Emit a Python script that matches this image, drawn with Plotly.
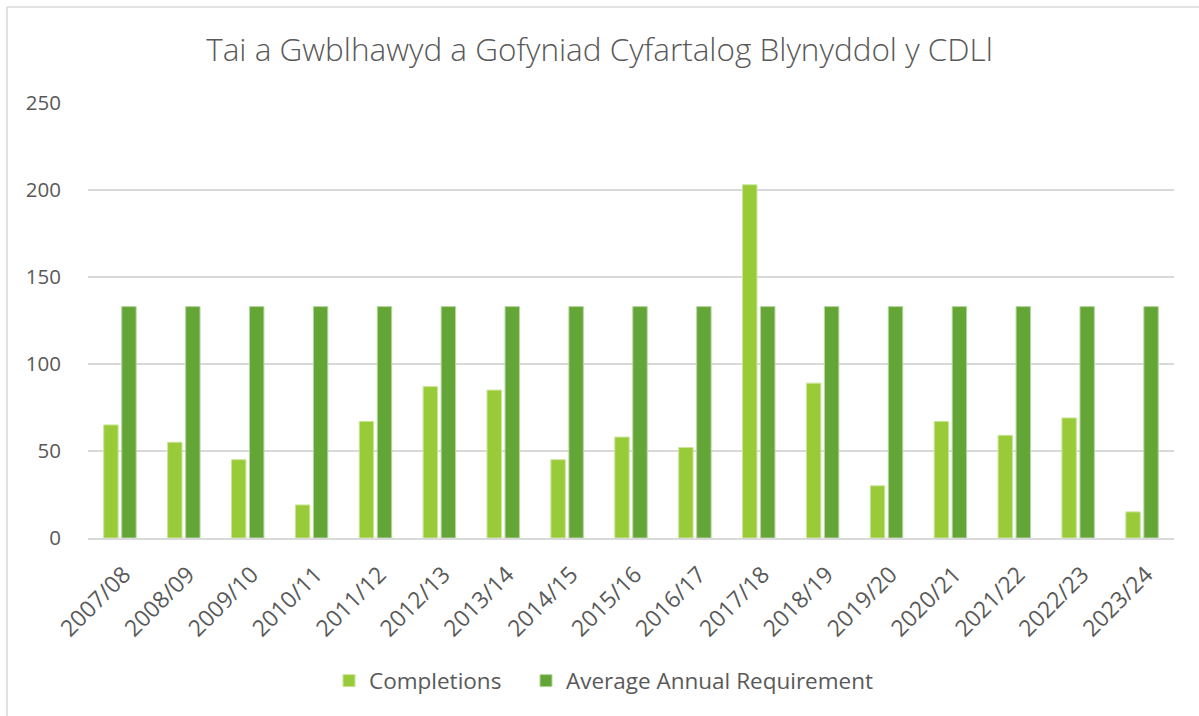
import plotly.graph_objects as go

years = ["2007/08", "2008/09", "2009/10", "2010/11", "2011/12", "2012/13",
         "2013/14", "2014/15", "2015/16", "2016/17", "2017/18", "2018/19",
         "2019/20", "2020/21", "2021/22", "2022/23", "2023/24"]
completions = [65, 55, 45, 19, 67, 87, 85, 45, 58, 52, 203, 89, 30, 67, 59, 69, 15]
requirement = [133] * len(years)

W, H = 1199, 716
FONT = "Open Sans, Noto Sans, sans-serif"
TEXT = "#595959"
GRID = "#D9D9D9"
PL, PR, PT, PB = 88, 1174, 103, 538  # plot area edges in px


def px_x(px):
    return (px - PL) / (PR - PL)


def px_y(py):
    return (PB - py) / (PB - PT)


fig = go.Figure()
fig.add_trace(go.Bar(
    x=years, y=completions, name="Completions", legend="legend",
    marker=dict(color="#99CB38", line=dict(color="#C9E59A", width=1)),
))
fig.add_trace(go.Bar(
    x=years, y=requirement, name="Average Annual Requirement", legend="legend2",
    marker=dict(color="#63A537", line=dict(color="#B5D69C", width=1)),
))

# chart frame edges (top and left)
fig.add_shape(type="line", xref="paper", yref="paper",
              x0=px_x(7), x1=px_x(W), y0=px_y(7), y1=px_y(7),
              line=dict(color=GRID, width=1.5))
fig.add_shape(type="line", xref="paper", yref="paper",
              x0=px_x(7), x1=px_x(7), y0=px_y(7), y1=px_y(H),
              line=dict(color=GRID, width=1.5))

legend_common = dict(orientation="h", xanchor="left", yanchor="middle",
                     y=px_y(681), font=dict(size=22.5, color=TEXT),
                     bgcolor="rgba(0,0,0,0)")

fig.update_layout(
    width=W, height=H,
    margin=dict(l=PL, r=W - PR, t=PT, b=H - PB),
    paper_bgcolor="white", plot_bgcolor="white",
    barmode="group", bargap=0.436, bargroupgap=0.2,
    font=dict(family=FONT, color=TEXT, size=20),
    title=dict(text="Tai a Gwblhawyd a Gofyniad Cyfartalog Blynyddol y CDLl",
               x=0.5, xanchor="center", y=1 - 50 / H, yanchor="middle",
               font=dict(size=31.5, color=TEXT, family=FONT, weight=300)),
    legend=dict(x=px_x(329), **legend_common),
    legend2=dict(x=px_x(526), **legend_common),
    showlegend=True,
)
fig.update_xaxes(tickangle=-45, showgrid=False, showline=True,
                 linecolor=GRID, linewidth=2, ticks="",
                 ticklabelshift=4, ticklabelstandoff=12,
                 tickfont=dict(size=23, color=TEXT))
fig.update_yaxes(range=[0, 250], dtick=50, showgrid=True, gridcolor=GRID,
                 gridwidth=2, zeroline=False, ticks="", ticklabelstandoff=26,
                 tickfont=dict(size=20.5, color=TEXT))

fig.write_html("out.html")
